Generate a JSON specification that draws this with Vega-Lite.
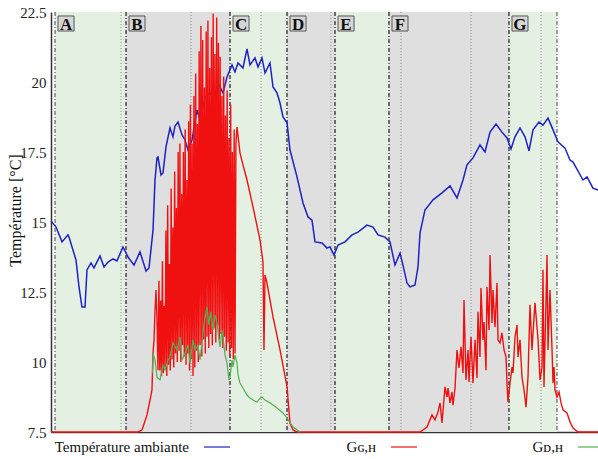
{
  "$schema": "https://vega.github.io/schema/vega-lite/v6.json",
  "width": 547,
  "height": 420,
  "autosize": {"type": "none"},
  "padding": {"left": 51, "top": 12, "right": 0, "bottom": 27},
  "background": "white",
  "config": {"view": {"stroke": null}, "font": "Liberation Serif"},
  "datasets": {
    "regions": [
      {"region": "A", "start": 0.69, "end": 12.86, "kind": "I"},
      {"region": "B", "start": 12.86, "end": 30.69, "kind": "II"},
      {"region": "C", "start": 30.69, "end": 40.46, "kind": "I"},
      {"region": "D", "start": 40.46, "end": 48.69, "kind": "II"},
      {"region": "E", "start": 48.69, "end": 57.94, "kind": "I"},
      {"region": "F", "start": 57.94, "end": 78.51, "kind": "II"},
      {"region": "G", "start": 78.51, "end": 86.74, "kind": "I"}
    ],
    "grid": [{"t": 12}, {"t": 24}, {"t": 36}, {"t": 48}, {"t": 60}, {"t": 72}, {"t": 84}],
    "temp": [
      {"t":0,"v":15.04},{"t":0.86,"v":14.82},{"t":1.89,"v":14.29},{"t":2.91,"v":14.54},{"t":3.09,"v":14.46},{"t":4.29,"v":13.64},{"t":4.8,"v":12.68},{"t":5.31,"v":11.96},{"t":5.83,"v":11.96},{"t":6.17,"v":13.29},{"t":6.86,"v":13.54},{"t":7.37,"v":13.36},{"t":8.4,"v":13.79},{"t":9.09,"v":13.39},{"t":9.77,"v":13.57},{"t":10.63,"v":13.68},{"t":11.31,"v":13.61},{"t":12.34,"v":14.11},{"t":13.2,"v":13.75},{"t":14.23,"v":13.46},{"t":15.26,"v":13.93},{"t":16.29,"v":13.25},{"t":16.8,"v":13.36},{"t":17.49,"v":14.71},{"t":17.83,"v":16.5},{"t":18.17,"v":17.29},{"t":18.34,"v":17.32},{"t":18.86,"v":16.68},{"t":19.2,"v":16.75},{"t":19.71,"v":17.68},{"t":20.4,"v":18.36},{"t":20.91,"v":18.04},{"t":21.26,"v":18.43},{"t":21.77,"v":18.57},{"t":22.46,"v":18.11},{"t":22.97,"v":17.93},{"t":23.49,"v":17.57},{"t":24.17,"v":17.93},{"t":25.03,"v":19.0},{"t":25.54,"v":18.64},{"t":26.4,"v":19.43},{"t":27.26,"v":19.64},{"t":27.77,"v":19.36},{"t":28.63,"v":19.96},{"t":29.49,"v":19.61},{"t":30.17,"v":20.18},{"t":31.03,"v":20.61},{"t":31.54,"v":20.36},{"t":32.06,"v":20.68},{"t":32.91,"v":20.5},{"t":33.6,"v":21.18},{"t":34.11,"v":20.61},{"t":34.97,"v":20.86},{"t":35.49,"v":20.54},{"t":36.17,"v":20.86},{"t":36.69,"v":20.32},{"t":37.54,"v":20.68},{"t":38.06,"v":19.82},{"t":38.74,"v":19.61},{"t":39.26,"v":19.25},{"t":39.77,"v":18.75},{"t":40.46,"v":18.54},{"t":40.97,"v":17.57},{"t":42.17,"v":16.61},{"t":43.2,"v":15.68},{"t":44.06,"v":15.18},{"t":44.74,"v":15.07},{"t":45.26,"v":14.29},{"t":46.46,"v":14.25},{"t":47.31,"v":14.07},{"t":47.83,"v":14.11},{"t":48.51,"v":13.82},{"t":49.2,"v":14.18},{"t":50.4,"v":14.29},{"t":51.6,"v":14.54},{"t":52.63,"v":14.64},{"t":54.17,"v":14.89},{"t":55.2,"v":14.82},{"t":56.06,"v":14.54},{"t":57.26,"v":14.46},{"t":58.11,"v":14.29},{"t":58.97,"v":13.46},{"t":59.83,"v":13.89},{"t":60.34,"v":13.46},{"t":61.03,"v":12.82},{"t":61.54,"v":12.68},{"t":62.4,"v":12.75},{"t":62.91,"v":13.39},{"t":63.26,"v":14.61},{"t":64.11,"v":15.43},{"t":65.49,"v":15.79},{"t":67.03,"v":16.04},{"t":68.4,"v":16.29},{"t":69.6,"v":15.86},{"t":70.63,"v":16.5},{"t":71.31,"v":17.04},{"t":72.34,"v":17.29},{"t":73.54,"v":17.75},{"t":74.4,"v":17.5},{"t":75.26,"v":18.21},{"t":76.29,"v":18.5},{"t":77.31,"v":18.21},{"t":78.17,"v":18.0},{"t":78.86,"v":17.61},{"t":79.54,"v":18.04},{"t":80.4,"v":18.36},{"t":81.26,"v":18.04},{"t":81.94,"v":17.54},{"t":82.63,"v":18.29},{"t":83.66,"v":18.57},{"t":84.34,"v":18.46},{"t":85.2,"v":18.71},{"t":86.06,"v":18.29},{"t":86.91,"v":17.86},{"t":88.11,"v":17.64},{"t":88.97,"v":17.21},{"t":89.49,"v":17.14},{"t":91.2,"v":16.5},{"t":91.89,"v":16.61},{"t":92.91,"v":16.21},{"t":93.77,"v":16.14}
    ],
    "gg": [
      {"t":0,"v":7.5},{"t":14.91,"v":7.5},{"t":15.6,"v":7.57},{"t":16.46,"v":8.11},{"t":16.97,"v":8.64},{"t":17.31,"v":9.0},{"t":17.49,"v":10.32},{"t":17.66,"v":10.79},{"t":17.83,"v":11.86},{"t":18.0,"v":12.57},{"t":18.17,"v":11.5},{"t":18.34,"v":9.71},
      {"t":18.5,"v":12.9},{"t":18.65,"v":9.7},{"t":18.8,"v":12.2},{"t":18.95,"v":9.5},{"t":19.1,"v":13.6},{"t":19.25,"v":9.6},{"t":19.4,"v":12.0},{"t":19.55,"v":9.8},{"t":19.7,"v":14.7},{"t":19.85,"v":9.5},{"t":20.0,"v":15.6},{"t":20.15,"v":9.9},{"t":20.3,"v":13.5},{"t":20.45,"v":9.7},{"t":20.6,"v":16.2},{"t":20.75,"v":10.1},{"t":20.9,"v":14.8},{"t":21.05,"v":9.8},{"t":21.2,"v":16.8},{"t":21.35,"v":10.3},{"t":21.5,"v":15.5},{"t":21.65,"v":10.0},{"t":21.8,"v":17.5},{"t":21.95,"v":10.4},{"t":22.1,"v":17.8},{"t":22.25,"v":10.0},{"t":22.4,"v":16.0},{"t":22.55,"v":10.6},{"t":22.7,"v":17.5},{"t":22.85,"v":10.2},{"t":23.0,"v":18.3},{"t":23.15,"v":9.9},{"t":23.3,"v":16.5},{"t":23.45,"v":10.3},{"t":23.6,"v":18.6},{"t":23.75,"v":9.7},{"t":23.9,"v":19.2},{"t":24.05,"v":10.1},{"t":24.2,"v":17.8},{"t":24.35,"v":9.5},{"t":24.5,"v":19.5},{"t":24.65,"v":9.8},{"t":24.8,"v":20.3},{"t":24.95,"v":10.4},{"t":25.1,"v":18.5},{"t":25.25,"v":10.0},{"t":25.4,"v":21.1},{"t":25.55,"v":10.6},{"t":25.7,"v":22.0},{"t":25.85,"v":10.2},{"t":26.0,"v":21.5},{"t":26.15,"v":10.8},{"t":26.3,"v":19.8},{"t":26.45,"v":10.3},{"t":26.6,"v":21.8},{"t":26.75,"v":10.9},{"t":26.9,"v":22.2},{"t":27.05,"v":10.5},{"t":27.2,"v":20.5},{"t":27.35,"v":11.0},{"t":27.5,"v":21.6},{"t":27.65,"v":10.6},{"t":27.8,"v":22.45},{"t":27.95,"v":11.2},{"t":28.1,"v":21.0},{"t":28.25,"v":10.7},{"t":28.4,"v":22.3},{"t":28.55,"v":11.3},{"t":28.7,"v":21.4},{"t":28.85,"v":10.8},{"t":29.0,"v":20.9},{"t":29.15,"v":11.0},{"t":29.3,"v":19.5},{"t":29.45,"v":10.5},{"t":29.6,"v":20.2},{"t":29.75,"v":10.9},{"t":29.9,"v":18.8},{"t":30.05,"v":10.4},{"t":30.2,"v":19.7},{"t":30.35,"v":10.7},{"t":30.5,"v":18.0},{"t":30.65,"v":10.2},{"t":30.8,"v":19.2},{"t":30.95,"v":10.5},{"t":31.1,"v":17.5},{"t":31.25,"v":10.1},{"t":31.4,"v":18.3},{"t":31.55,"v":10.3},{"t":31.7,"v":17.8},
      {"t":31.89,"v":18.39},{"t":32.4,"v":17.46},{"t":32.91,"v":17.04},{"t":33.6,"v":16.5},{"t":34.63,"v":15.54},{"t":35.83,"v":14.36},{"t":36.34,"v":13.57},{"t":36.51,"v":10.43},{"t":36.69,"v":13.11},{"t":37.03,"v":12.82},{"t":38.06,"v":11.61},{"t":39.26,"v":10.43},{"t":40.46,"v":9.11},{"t":40.97,"v":7.82},{"t":41.49,"v":7.57},{"t":42.17,"v":7.5},{"t":62.91,"v":7.5},
      {"t":63.26,"v":7.5},{"t":64.46,"v":7.68},{"t":65.31,"v":8.11},{"t":65.83,"v":7.93},{"t":66.34,"v":8.21},{"t":66.69,"v":8.54},{"t":67.03,"v":7.82},{"t":67.54,"v":9.11},{"t":67.89,"v":8.75},{"t":68.06,"v":9.07},{"t":68.4,"v":8.54},{"t":68.74,"v":8.93},{"t":68.91,"v":8.46},{"t":69.26,"v":9.07},{"t":69.6,"v":10.43},{"t":69.94,"v":9.79},{"t":70.29,"v":10.54},{"t":70.63,"v":9.61},{"t":70.8,"v":12.21},{"t":71.14,"v":9.36},{"t":71.49,"v":10.43},{"t":71.66,"v":9.29},{"t":72.0,"v":10.89},{"t":72.34,"v":9.25},{"t":72.69,"v":10.79},{"t":73.03,"v":9.43},{"t":73.2,"v":11.79},{"t":73.54,"v":10.18},{"t":73.71,"v":12.64},{"t":74.06,"v":10.79},{"t":74.23,"v":11.43},{"t":74.57,"v":9.71},{"t":74.74,"v":12.68},{"t":75.09,"v":11.14},{"t":75.26,"v":13.82},{"t":75.6,"v":11.39},{"t":75.77,"v":12.57},{"t":76.11,"v":11.25},{"t":76.46,"v":12.82},{"t":76.63,"v":10.79},{"t":76.97,"v":10.68},{"t":77.31,"v":11.04},{"t":77.66,"v":10.43},{"t":78.0,"v":10.18},{"t":78.17,"v":9.25},{"t":78.34,"v":8.57},{"t":78.69,"v":9.25},{"t":79.03,"v":9.82},{"t":79.2,"v":9.61},{"t":79.54,"v":10.89},{"t":79.89,"v":11.32},{"t":80.06,"v":10.18},{"t":80.4,"v":10.79},{"t":80.74,"v":9.46},{"t":81.09,"v":9.0},{"t":81.43,"v":8.39},{"t":81.77,"v":9.46},{"t":82.11,"v":12.04},{"t":82.46,"v":10.43},{"t":82.63,"v":11.04},{"t":82.97,"v":12.11},{"t":83.31,"v":11.25},{"t":83.49,"v":10.79},{"t":83.83,"v":9.36},{"t":84.17,"v":9.82},{"t":84.34,"v":13.29},{"t":84.51,"v":9.11},{"t":84.86,"v":12.21},{"t":85.03,"v":13.82},{"t":85.2,"v":10.43},{"t":85.54,"v":12.57},{"t":85.89,"v":10.43},{"t":86.06,"v":9.25},{"t":86.23,"v":9.82},{"t":86.4,"v":9.0},{"t":86.74,"v":8.75},{"t":87.09,"v":8.93},{"t":87.43,"v":8.54},{"t":87.77,"v":8.29},{"t":88.46,"v":8.18},{"t":88.97,"v":7.86},{"t":89.49,"v":7.64},{"t":90.34,"v":7.5},{"t":93.77,"v":7.5}
    ],
    "gd": [
      {"t":17.4,"v":9.6},{"t":17.49,"v":10.32},{"t":17.83,"v":10.07},{"t":18.17,"v":9.46},{"t":18.69,"v":9.36},{"t":19.2,"v":9.89},{"t":19.54,"v":9.71},{"t":20.06,"v":10.07},{"t":20.4,"v":10.18},{"t":20.91,"v":10.68},{"t":21.6,"v":10.43},{"t":22.11,"v":10.89},{"t":22.46,"v":10.07},{"t":22.97,"v":10.32},{"t":23.49,"v":10.61},{"t":23.83,"v":9.96},{"t":24.34,"v":10.79},{"t":24.69,"v":10.43},{"t":25.2,"v":10.61},{"t":25.54,"v":10.07},{"t":26.06,"v":11.04},{"t":26.4,"v":11.57},{"t":26.74,"v":11.96},{"t":27.09,"v":11.32},{"t":27.43,"v":11.79},{"t":27.77,"v":11.14},{"t":28.11,"v":11.68},{"t":28.46,"v":11.39},{"t":28.8,"v":10.79},{"t":28.97,"v":10.54},{"t":29.31,"v":11.14},{"t":29.49,"v":10.89},{"t":29.83,"v":10.25},{"t":30.17,"v":9.96},{"t":30.51,"v":9.36},{"t":30.69,"v":9.46},{"t":31.03,"v":10.07},{"t":31.2,"v":9.82},{"t":31.54,"v":10.25},{"t":31.89,"v":9.96},{"t":32.06,"v":9.54},{"t":32.4,"v":9.25},{"t":32.91,"v":9.07},{"t":33.6,"v":8.82},{"t":34.11,"v":8.71},{"t":34.63,"v":8.64},{"t":35.31,"v":8.57},{"t":35.83,"v":8.71},{"t":36.17,"v":8.75},{"t":36.69,"v":8.64},{"t":37.54,"v":8.54},{"t":38.74,"v":8.36},{"t":39.77,"v":8.18},{"t":40.46,"v":8.0},{"t":41.49,"v":7.68},{"t":42.69,"v":7.5}
    ]
  },
  "layer": [
    {
      "data": {"name": "regions"},
      "mark": {"type": "rect"},
      "encoding": {
        "x": {"field": "start", "type": "quantitative", "scale": {"domain": [0, 93.77], "nice": false, "zero": false},
              "axis": {"labels": false, "ticks": false, "title": null, "grid": false, "domainColor": "#333", "domainWidth": 1.5}},
        "x2": {"field": "end"},
        "fill": {"field": "kind", "type": "nominal", "scale": {"domain": ["I", "II"], "range": ["#e4f0e2", "#dfdfdf"]}, "legend": null}
      }
    },
    {
      "data": {"name": "grid"},
      "mark": {"type": "rule", "color": "#8a8a8a", "strokeWidth": 1, "strokeDash": [1, 2]},
      "encoding": {"x": {"field": "t", "type": "quantitative"}}
    },
    {
      "data": {"name": "regions"},
      "mark": {"type": "rule", "color": "#444", "strokeWidth": 1, "strokeDash": [4, 2, 1, 2]},
      "encoding": {"x": {"field": "start", "type": "quantitative"}}
    },
    {
      "data": {"name": "regions"},
      "mark": {"type": "rule", "color": "#444", "strokeWidth": 1, "strokeDash": [4, 2, 1, 2]},
      "encoding": {"x": {"field": "end", "type": "quantitative"}}
    },
    {
      "mark": {"type": "rule", "color": "#333", "strokeWidth": 1.5},
      "encoding": {"y": {"datum": 22.5, "type": "quantitative"}}
    },
    {
      "data": {"name": "temp"},
      "mark": {"type": "line", "strokeWidth": 1.5, "interpolate": "linear"},
      "encoding": {
        "x": {"field": "t", "type": "quantitative"},
        "y": {"field": "v", "type": "quantitative",
              "scale": {"domain": [7.5, 22.5], "nice": false, "zero": false},
              "axis": {"values": [7.5, 10, 12.5, 15, 17.5, 20, 22.5], "format": ".1~f", "labelFont": "Liberation Serif", "labelFontSize": 15, "labelColor": "#222", "tickSize": 0, "labelPadding": 5, "domainColor": "#333", "domainWidth": 1.5, "grid": false,
                       "title": "Température [°C]", "titleFont": "Liberation Serif", "titleFontSize": 16, "titleFontWeight": "normal", "titleColor": "#111", "titleX": -28, "titleY": 198}},
        "color": {"datum": "Température ambiante", "type": "nominal",
                  "scale": {"domain": ["Température ambiante", "Gɢ,ʜ", "Gᴅ,ʜ"], "range": ["#1e22c4", "#f01010", "#52b04f"]},
                  "legend": {"orient": "none", "legendX": 152, "legendY": 421, "direction": "horizontal", "title": null, "padding": 0,
                             "symbolType": "stroke", "symbolSize": 676, "symbolStrokeWidth": 1.2, "symbolOffset": 0,
                             "labelAlign": "right", "labelOffset": -42, "labelFont": "Liberation Serif", "labelFontSize": 15, "labelColor": "#111", "labelLimit": 300,
                             "gridAlign": "all", "columnPadding": 112}}
      }
    },
    {
      "data": {"name": "gg"},
      "mark": {"type": "line", "strokeWidth": 1.4},
      "encoding": {
        "x": {"field": "t", "type": "quantitative"},
        "y": {"field": "v", "type": "quantitative"},
        "color": {"datum": "Gɢ,ʜ", "type": "nominal"}
      }
    },
    {
      "data": {"name": "gd"},
      "mark": {"type": "line", "strokeWidth": 1.2},
      "encoding": {
        "x": {"field": "t", "type": "quantitative"},
        "y": {"field": "v", "type": "quantitative"},
        "color": {"datum": "Gᴅ,ʜ", "type": "nominal"}
      }
    },
    {
      "data": {"name": "regions"},
      "mark": {"type": "point", "shape": "M-1,-0.94H1V0.94H-1Z", "size": 256, "filled": true, "fill": "#d6d6d6", "stroke": "#555", "strokeWidth": 1, "opacity": 1, "xOffset": 11, "yOffset": 11.5},
      "encoding": {"x": {"field": "start", "type": "quantitative"}, "y": {"datum": 22.5, "type": "quantitative"}}
    },
    {
      "data": {"name": "regions"},
      "mark": {"type": "text", "font": "Liberation Serif", "fontWeight": "bold", "fontSize": 17, "color": "#111", "align": "center", "baseline": "middle", "xOffset": 11, "yOffset": 12.5},
      "encoding": {"x": {"field": "start", "type": "quantitative"}, "y": {"datum": 22.5, "type": "quantitative"}, "text": {"field": "region"}}
    }
  ]
}
